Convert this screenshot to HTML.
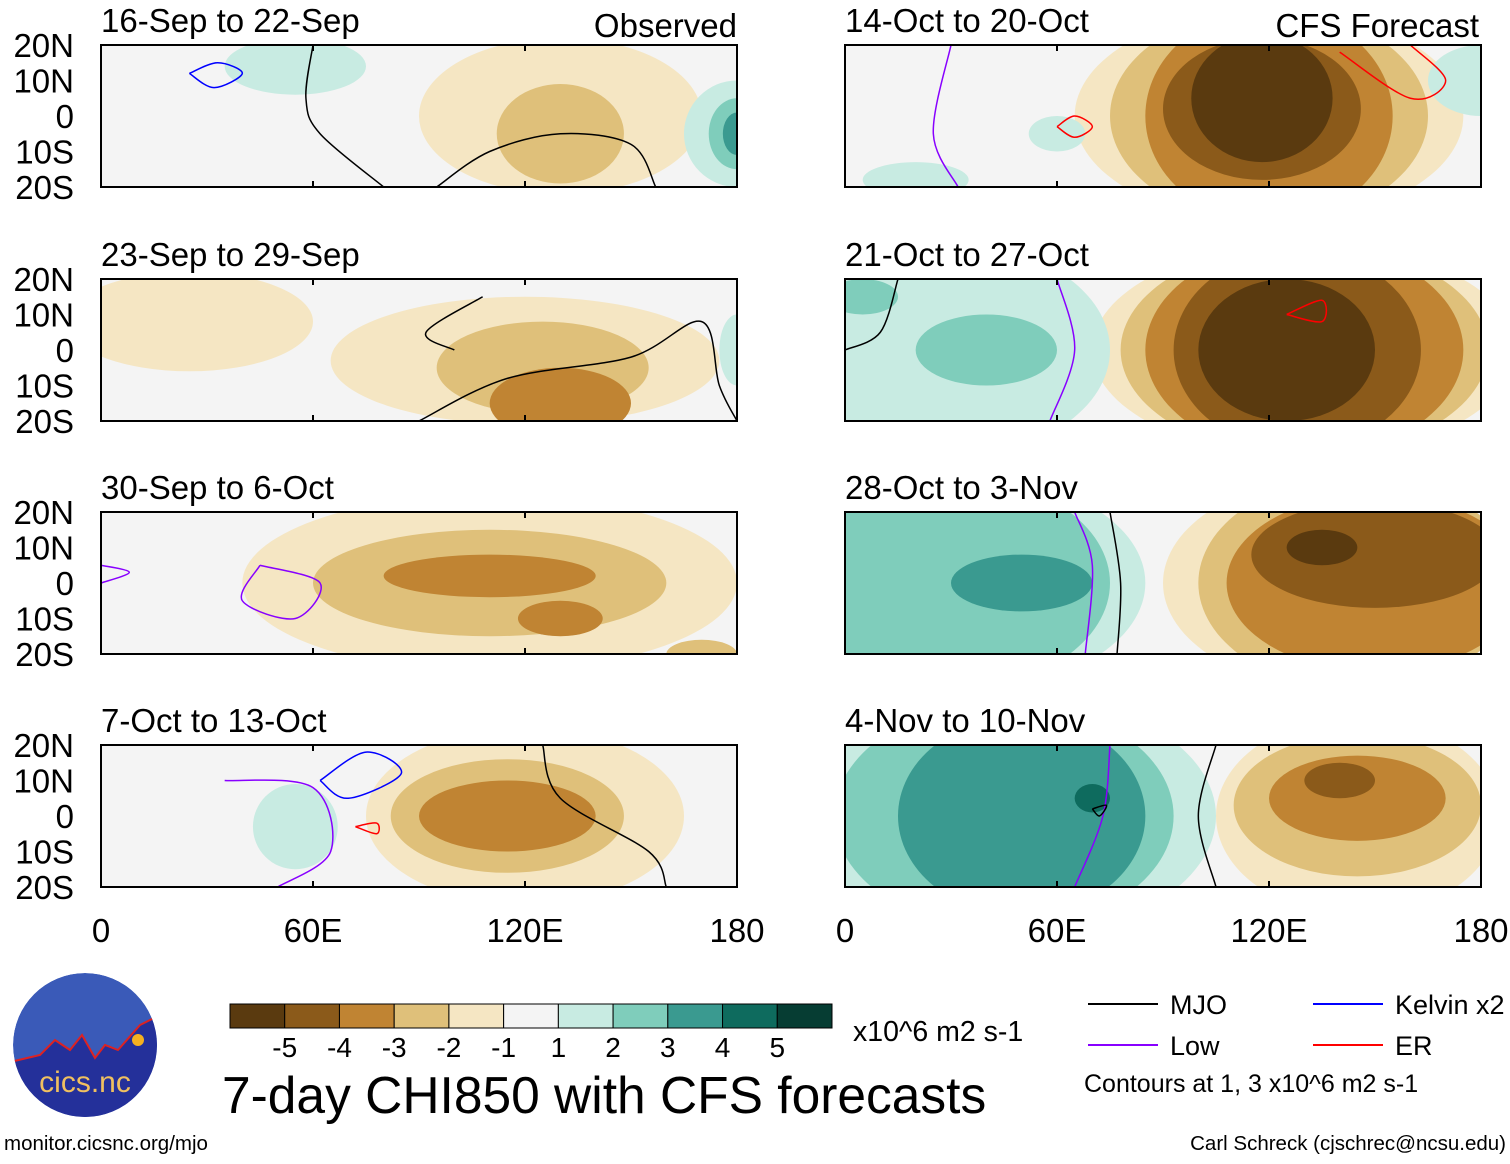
<!DOCTYPE html>
<html><head><meta charset="utf-8"><style>
body{margin:0;background:#fff;font-family:"Liberation Sans",sans-serif}
svg text{font-family:"Liberation Sans",sans-serif}
</style></head><body>
<svg id="c" width="1510" height="1159" xmlns="http://www.w3.org/2000/svg"></svg>
<script>
const levels=[-5,-4,-3,-2,-1,0,1,2,3,4,5];
const levelColors=["#5a3a0f","#8b5a1a","#c08433","#dfc07a","#f5e6c3","#f4f4f4","#c8ebe2","#7fcdbb","#3a9a90","#0e6b5e","#063d33"];
const cbLabels=["-5","-4","-3","-2","-1","1","2","3","4","5"];
const panelTitles=["16-Sep to 22-Sep","23-Sep to 29-Sep","30-Sep to 6-Oct","7-Oct to 13-Oct","14-Oct to 20-Oct","21-Oct to 27-Oct","28-Oct to 3-Nov","4-Nov to 10-Nov"];
const lonTicks=[0,60,120,180];
const lonLabels=["0","60E","120E","180"];
const latTicks=[20,10,0,-10,-20];
const latLabels=["20N","10N","0","10S","20S"];
// blobs: [lon, lat, rxDeg, ryDeg, level]
const blobs=[
[[130,0,40,22,-1],[130,-5,18,14,-2],[55,14,20,8,1],[180,-5,15,15,1],[180,-5,8,10,2],[180,-5,4,6,3]],
[[25,8,35,14,-1],[120,-3,55,18,-1],[125,-5,30,13,-2],[130,-15,20,10,-3],[180,0,5,10,1]],
[[110,0,70,25,-1],[110,0,50,15,-2],[110,2,30,6,-3],[130,-10,12,5,-3],[170,-20,10,4,-2]],
[[120,0,45,25,-1],[115,0,33,16,-2],[115,0,25,10,-3],[55,-3,12,12,1]],
[[120,0,55,30,-1],[120,0,45,30,-2],[120,0,35,30,-3],[118,2,28,20,-4],[118,5,20,18,-5],[180,10,15,10,1],[60,-5,8,5,1],[20,-18,15,5,1]],
[[130,0,60,30,-1],[130,0,52,30,-2],[130,0,45,30,-3],[128,0,35,28,-4],[125,0,25,20,-5],[30,0,45,30,1],[40,0,20,10,2],[5,15,10,5,2]],
[[140,0,50,30,-1],[145,0,45,30,-2],[150,0,42,25,-3],[150,8,35,15,-4],[135,10,10,5,-5],[35,0,50,30,1],[30,0,45,30,2],[50,0,20,8,3]],
[[145,0,40,28,-1],[145,3,35,20,-2],[145,5,25,12,-3],[140,10,10,5,-4],[45,0,60,35,1],[45,0,48,32,2],[50,0,35,28,3],[70,5,5,4,4]]
];
// contours: [color, [lon,lat,...]]
const contours=[
[["#000",[60,20,58,5,62,-5,80,-20]],["#00f",[25,12,32,8,40,12,33,15,25,12]],["#000",[95,-20,110,-10,130,-5,150,-8,157,-20]]],
[["#000",[90,-20,115,-8,150,-2,170,8,175,-10,180,-20]],["#000",[100,0,92,5,108,15]]],
[["#80f",[45,5,40,-5,55,-10,62,0,45,5]],["#80f",[0,5,8,3,0,0]]],
[["#00f",[62,10,75,18,85,12,70,5,62,10]],["#f00",[72,-3,78,-5,78,-2,72,-3]],["#80f",[35,10,60,8,65,-10,50,-20]],["#000",[125,20,130,5,155,-10,160,-20]]],
[["#f00",[140,18,160,5,170,10,160,20]],["#f00",[60,-3,65,-6,70,-3,65,0,60,-3]],["#80f",[30,20,25,-5,32,-20]]],
[["#80f",[60,20,65,0,58,-20]],["#f00",[125,10,135,14,135,8,125,10]],["#000",[0,0,10,5,15,20]]],
[["#80f",[65,20,70,5,68,-20]],["#000",[75,20,78,0,77,-20]]],
[["#80f",[75,20,73,0,65,-20]],["#000",[70,2,74,3,72,0,70,2]],["#000",[105,20,100,0,105,-20]]]
];
const ns="http://www.w3.org/2000/svg";
const svg=document.getElementById('c');
function mk(t,a,p){const e=document.createElementNS(ns,t);for(const k in a)e.setAttribute(k,a[k]);(p||svg).appendChild(e);return e;}
function smooth(pts){let d='M'+pts[0][0]+','+pts[0][1];
  for(let i=0;i<pts.length-1;i++){const p0=pts[Math.max(0,i-1)],p1=pts[i],p2=pts[i+1],p3=pts[Math.min(pts.length-1,i+2)];
    d+='C'+(p1[0]+(p2[0]-p0[0])/6)+','+(p1[1]+(p2[1]-p0[1])/6)+' '+(p2[0]-(p3[0]-p1[0])/6)+','+(p2[1]-(p3[1]-p1[1])/6)+' '+p2[0]+','+p2[1];}
  return d;}
const colX=[101,845],rowY=[45,279,512,745],PW=636,PH=142;
const defs=mk('defs',{});
for(let i=0;i<8;i++){
  const col=i<4?0:1,row=i%4,x0=colX[col],y0=rowY[row];
  const X=l=>x0+l/180*PW, Y=la=>y0+(20-la)/40*PH;
  const cp=mk('clipPath',{id:'cp'+i},defs);mk('rect',{x:x0,y:y0,width:PW,height:PH},cp);
  const g=mk('g',{'clip-path':'url(#cp'+i+')'});
  
  mk('rect',{x:x0,y:y0,width:PW,height:PH,fill:levelColors[5]},g);
  blobs[i].forEach(b=>{const e=mk('ellipse',{cx:X(b[0]),cy:Y(b[1]),rx:b[2]/180*PW,ry:b[3]/40*PH,fill:levelColors[levels.indexOf(b[4])]},g);
    });
  contours[i].forEach(c=>{const pts=[];for(let k=0;k<c[1].length;k+=2)pts.push([X(c[1][k]),Y(c[1][k+1])]);
    const p=mk('path',{d:smooth(pts),fill:'none',stroke:c[0],'stroke-width':1.5},g);});
  mk('rect',{x:x0,y:y0,width:PW,height:PH,fill:'none',stroke:'#000','stroke-width':2});
  lonTicks.forEach(l=>{mk('line',{x1:X(l),x2:X(l),y1:y0+PH,y2:y0+PH-6,stroke:'#000','stroke-width':2});mk('line',{x1:X(l),x2:X(l),y1:y0,y2:y0+6,stroke:'#000','stroke-width':2});});
  const t=mk('text',{x:x0,y:y0-13,'font-size':33});t.textContent=panelTitles[i];
  
  if(col==0){latTicks.forEach((la,k)=>{const tt=mk('text',{x:74,y:Y(la)+12,'font-size':33,'text-anchor':'end'});tt.textContent=latLabels[k];
    });}
  if(row==3){lonTicks.forEach((l,k)=>{const tt=mk('text',{x:X(l),y:942,'font-size':33,'text-anchor':'middle'});tt.textContent=lonLabels[k];
    });}
}
let tt=mk('text',{x:737,y:37,'font-size':33,'text-anchor':'end'});tt.textContent='Observed';

tt=mk('text',{x:1479,y:37,'font-size':33,'text-anchor':'end'});tt.textContent='CFS Forecast';

// colorbar
const cbx=230,cbw=602/11;
levelColors.forEach((c,k)=>{const r=mk('rect',{x:cbx+k*cbw,y:1004,width:cbw,height:24,fill:c,stroke:'#000','stroke-width':1});
  });
cbLabels.forEach((s,k)=>{const t=mk('text',{x:cbx+(k+1)*cbw,y:1057,'font-size':28,'text-anchor':'middle'});t.textContent=s;
  });
tt=mk('text',{x:853,y:1041,'font-size':28.5});tt.textContent='x10^6 m2 s-1';
tt=mk('text',{x:222,y:1113,'font-size':51.5});tt.textContent='7-day CHI850 with CFS forecasts';
// legend
const leg=[["#000","MJO",1088,1004],["#00f","Kelvin x2",1313,1004],["#80f","Low",1088,1045],["#f00","ER",1313,1045]];
leg.forEach(l=>{mk('line',{x1:l[2],x2:l[2]+70,y1:l[3],y2:l[3],stroke:l[0],'stroke-width':2});
  const t=mk('text',{x:l[2]+82,y:l[3]+10,'font-size':27});t.textContent=l[1];});
tt=mk('text',{x:1084,y:1092,'font-size':25});tt.textContent='Contours at 1, 3 x10^6 m2 s-1';
tt=mk('text',{x:4,y:1150,'font-size':20.5});tt.textContent='monitor.cicsnc.org/mjo';
tt=mk('text',{x:1506,y:1150,'font-size':20.5,'text-anchor':'end'});tt.textContent='Carl Schreck (cjschrec@ncsu.edu)';
// logo
const lg=mk('g',{});
const lcp=mk('clipPath',{id:'lgc'},defs);mk('circle',{cx:85,cy:1045,r:72},lcp);
const lgi=mk('g',{'clip-path':'url(#lgc)'},lg);
mk('circle',{cx:85,cy:1045,r:72,fill:'#3a5ab8'},lgi);
mk('path',{d:'M10,1062 L40,1055 L55,1040 L70,1050 L82,1035 L95,1058 L105,1045 L118,1050 L140,1025 L160,1015 L160,1120 L10,1120Z',fill:'#24309a',stroke:'#d22','stroke-width':2},lgi);
mk('circle',{cx:138,cy:1040,r:6,fill:'#f5b020'},lg);
tt=mk('text',{x:85,y:1092,'font-size':30,fill:'#f0c060','text-anchor':'middle'},lg);tt.textContent='cics.nc';
</script>
</body></html>
